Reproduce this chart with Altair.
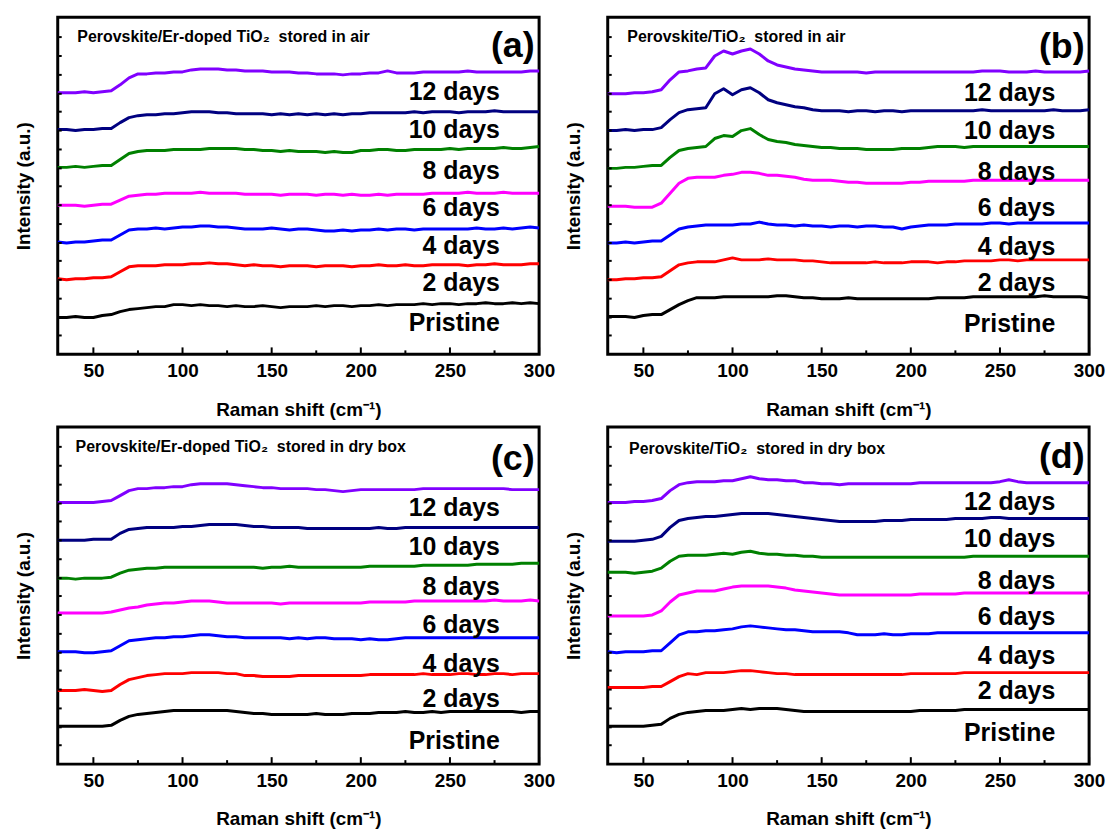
import altair as alt
import pandas as pd

FONT = "Liberation Sans"

SERIES = ["Pristine", "2 days", "4 days", "6 days", "8 days", "10 days", "12 days"]
COLORS = ["#000000", "#ff0000", "#0000ff", "#ff00ff", "#008000", "#000080", "#8000ff"]

RAMAN_SHIFT = list(range(30, 301, 5))  # sample positions, cm-1

X_MAJOR_TICKS = [50, 100, 150, 200, 250, 300]
X_MINOR_TICKS = [75, 125, 175, 225, 275]
Y_TICKS = [19, 37, 56, 75, 94, 112, 131, 150, 169, 187, 206, 225, 244, 262, 281, 300, 319]

# ---------------- panel (a): Perovskite/Er-doped TiO2, air ----------------
A_PRISTINE = [37,37,38,37,37,39,40,43,45,46,47, 48,48,50,50,49,50,49,49,48,49,48,
              48,49,48,47,48,48,48,49,48,49,49, 48,49,49,50,49,50,50,50,51,50,51,
              51,50,51,51,52,51,51,52,51,52,51]
A_2D = [76,75,76,76,77,77,78,83,88,89,89, 89,90,90,90,91,91,92,91,91,90,89,
        90,89,89,88,89,89,89,88,89,89,89, 88,89,89,90,89,89,90,89,89,90,90,
        90,90,89,90,90,91,90,90,90,91,91]
A_4D = [113,112,113,113,114,115,115,120,125,126,126, 127,126,127,128,128,129,129,128,128,127,126,
        126,126,127,126,125,126,126,125,124,124,125, 124,125,125,126,125,126,126,125,126,126,126,
        126,126,126,127,126,126,127,126,127,128,127]
A_6D = [150,150,150,149,150,151,151,155,159,160,161, 161,162,162,162,162,163,162,162,162,162,161,
        161,161,161,160,161,161,161,160,161,161,160, 161,160,160,161,160,161,161,161,161,162,162,
        162,162,163,162,162,162,163,162,162,162,162]
A_8D = [188,188,189,188,189,190,190,196,202,204,205, 205,205,206,206,206,206,207,207,207,207,206,
        206,205,205,204,205,204,204,204,203,204,203, 203,205,205,206,206,205,205,206,206,206,206,
        207,206,207,207,207,207,208,207,207,208,209]
A_10D = [226,226,225,226,226,227,227,233,238,240,241, 241,242,242,243,244,244,244,243,243,242,242,
         242,242,241,242,241,242,241,242,241,242,241, 242,242,243,243,243,243,243,244,243,244,244,
         244,243,244,244,244,245,244,244,244,244,244]
A_12D = [263,263,263,264,263,264,265,271,278,282,282, 283,283,284,284,286,287,287,287,286,286,285,
         285,285,284,284,284,283,283,282,282,282,281, 282,282,283,283,285,283,283,283,284,284,284,
         284,284,285,284,284,284,284,284,284,285,285]

# ---------------- panel (b): Perovskite/TiO2, air ----------------
B_PRISTINE = [38,38,38,37,39,40,40,45,50,54,57, 57,57,58,58,58,58,58,58,59,59,58,
              57,57,56,56,56,57,56,56,56,56,56, 56,56,56,56,57,57,57,57,58,58,58,
              58,58,58,58,58,59,58,58,58,58,57]
B_2D = [75,75,76,76,77,77,78,84,90,92,93, 93,93,95,97,95,95,95,96,95,95,95,
        94,94,93,92,92,92,92,92,93,92,92, 92,93,93,93,92,93,93,94,94,94,94,
        95,95,94,95,95,95,95,95,95,95,95]
B_4D = [112,112,113,112,113,114,114,120,126,128,129, 130,130,130,130,131,131,133,131,130,130,129,
        130,129,129,128,129,129,128,129,129,128,128, 126,128,129,130,130,130,131,131,131,131,132,
        132,131,132,132,132,132,132,132,132,132,132]
B_6D = [149,149,149,148,148,148,152,162,172,177,178, 178,178,180,181,183,183,182,180,180,179,178,
        176,175,175,175,174,173,173,172,172,172,172, 172,173,173,174,174,174,174,174,175,175,175,
        175,175,175,175,175,175,175,175,175,175,175]
B_8D = [187,187,188,188,189,190,190,198,205,207,208, 209,217,220,219,225,227,221,216,214,213,211,
        210,209,208,208,207,207,207,206,206,206,206, 207,207,207,208,209,209,209,208,209,209,209,
        209,209,209,209,209,209,209,209,209,209,209]
B_10D = [225,225,226,225,226,226,228,236,243,246,247, 248,262,267,261,266,268,263,256,253,251,249,
         248,246,245,245,245,244,245,245,244,245,245, 244,245,245,245,245,245,245,245,245,246,245,
         245,245,245,245,245,245,246,245,245,245,246]
B_12D = [262,262,262,263,263,264,266,276,284,285,287, 288,300,305,302,305,307,302,295,291,289,287,
         286,285,284,284,284,284,284,283,284,284,284, 284,284,284,284,284,284,284,284,284,285,285,
         285,284,284,284,285,284,284,284,284,284,285]

# ---------------- panel (c): Perovskite/Er-doped TiO2, dry box ----------------
C_PRISTINE = [38,38,38,38,38,38,39,44,48,50,51, 52,53,54,54,54,54,54,54,54,53,52,
              51,51,50,50,50,50,50,51,50,50,50, 51,51,51,52,52,52,53,52,52,53,52,
              53,53,53,53,53,53,53,53,52,53,53]
C_2D = [74,74,74,75,74,73,74,80,85,87,89, 90,91,91,91,92,92,92,92,91,91,89,
        89,88,88,88,88,89,89,89,89,89,89, 89,89,90,90,90,90,90,90,91,90,90,
        90,91,91,90,90,91,91,90,91,91,91]
C_4D = [113,113,113,112,112,113,114,119,124,125,126, 127,127,128,128,129,130,130,129,128,128,127,
        127,127,127,127,126,127,126,127,127,126,126, 126,125,126,125,125,126,127,127,127,127,127,
        127,127,127,127,127,127,127,127,127,127,127]
C_6D = [152,152,152,152,152,152,153,155,157,158,160, 161,162,162,163,164,164,164,163,162,162,162,
        162,162,162,161,162,162,162,162,162,162,162, 162,162,163,163,163,163,163,164,164,164,164,
        164,164,164,164,164,165,164,164,164,165,164]
C_8D = [187,187,186,187,187,187,188,192,195,196,197, 197,198,198,198,198,198,198,198,198,198,198,
        198,197,198,198,199,198,198,198,198,198,198, 198,198,199,199,199,199,199,199,200,200,200,
        200,200,200,201,201,201,201,201,202,202,202]
C_10D = [225,225,225,225,226,226,226,232,236,237,238, 238,238,238,239,239,240,241,241,241,241,240,
         239,239,238,238,238,238,237,237,237,237,237, 237,237,237,238,237,237,238,238,238,238,238,
         238,238,238,238,238,238,238,238,238,238,238]
C_12D = [263,263,263,263,263,264,265,270,275,277,277, 278,278,279,279,281,282,282,282,282,281,280,
         279,278,278,277,277,277,277,276,276,275,274, 275,276,276,276,276,276,276,276,277,277,277,
         277,277,277,277,277,277,277,276,276,276,276]

# ---------------- panel (d): Perovskite/TiO2, dry box ----------------
D_PRISTINE = [38,38,38,38,38,39,40,46,50,52,53, 54,54,54,55,56,55,56,56,56,55,54,
              53,53,53,53,53,53,53,53,53,53,53, 53,53,54,54,54,54,54,55,55,55,55,
              55,55,55,55,55,55,55,55,55,55,55]
D_2D = [77,77,77,77,77,78,78,83,88,91,90, 92,92,92,93,94,94,93,92,91,91,90,
        90,90,90,90,90,90,90,90,90,90,90, 90,91,91,91,91,91,91,92,92,92,92,
        92,92,92,92,92,92,92,92,92,92,92]
D_4D = [113,112,113,113,113,114,114,122,130,133,133, 134,134,135,136,138,139,138,137,136,135,135,
        134,133,133,133,133,132,130,130,130,131,130, 130,131,131,131,132,132,132,132,132,132,132,
        132,132,132,132,132,132,132,132,132,132,132]
D_6D = [149,149,149,149,149,150,154,163,170,172,174, 174,174,176,178,179,179,179,179,178,177,175,
        174,173,172,171,170,170,170,170,170,170,170, 170,170,171,171,171,171,171,172,172,172,172,
        172,172,172,172,172,172,172,172,172,172,172]
D_8D = [193,193,193,192,193,194,197,204,209,210,210, 210,211,212,211,213,214,212,211,211,210,210,
        209,209,208,208,208,208,208,208,208,208,208, 208,208,208,208,208,208,208,208,209,209,209,
        209,209,209,209,209,209,209,209,209,209,209]
D_10D = [224,224,224,224,225,226,229,238,245,247,248, 249,249,250,251,252,252,252,252,251,250,249,
         248,247,246,245,244,244,244,244,244,245,245, 245,246,246,246,246,246,247,247,247,247,248,
         248,247,247,247,247,247,247,247,247,247,247]
D_12D = [263,263,263,264,264,265,267,275,281,283,284, 284,284,285,285,287,289,287,286,286,285,285,
         283,283,282,282,281,282,282,282,282,282,282, 282,282,283,283,283,283,283,283,283,283,283,
         284,286,284,283,283,283,283,283,283,283,283]

# label baselines (intensity units) per panel, order as SERIES
A_LABEL_Y = [23, 64, 101, 139, 176, 218, 256]
B_LABEL_Y = [22, 64, 100, 139, 175, 217, 255]
C_LABEL_Y = [15, 57, 93, 132, 170, 210, 249]
D_LABEL_Y = [23, 65, 101, 140, 176, 218, 256]

W, H = 484, 339

X_ENC = dict(
    field="x", type="quantitative",
    scale=alt.Scale(domain=[30, 300], nice=False, zero=False),
    axis=alt.Axis(values=X_MAJOR_TICKS, title="Raman shift (cm⁻¹)", ticks=False, domain=False,
                  grid=False, labelPadding=7, titlePadding=20, labelFontSize=19, titleFontSize=19,
                  labelFont=FONT, titleFont=FONT, labelFontWeight="bold", titleFontWeight="bold",
                  labelColor="black", titleColor="black", labelFlush=False),
)
Y_ENC = dict(
    field="y", type="quantitative",
    scale=alt.Scale(domain=[0, 339], nice=False, zero=False),
    axis=alt.Axis(title="Intensity (a.u.)", labels=False, ticks=False, domain=False, grid=False,
                  titlePadding=24, titleFontSize=19, titleFont=FONT, titleFontWeight="bold",
                  titleColor="black"),
)


def panel(curves, label_y, label_x, subtitle, sub_x, sub_y, letter, letter_x, letter_y):
    rows = []
    for name, vals in zip(SERIES, curves):
        for xv, yv in zip(RAMAN_SHIFT, vals):
            rows.append({"x": xv, "y": yv, "series": name})
    df = pd.DataFrame(rows)
    x = alt.X(**X_ENC)
    y = alt.Y(**Y_ENC)

    lines = alt.Chart(df).mark_line(strokeWidth=3, strokeJoin="round").encode(
        x=x, y=y,
        color=alt.Color("series:N", scale=alt.Scale(domain=SERIES, range=COLORS), legend=None),
        detail="series:N",
    )
    lab_df = pd.DataFrame({"x": [label_x] * len(SERIES), "y": label_y, "t": SERIES})
    labels = alt.Chart(lab_df).mark_text(
        align="right", baseline="alphabetic", fontSize=25, fontWeight="bold", font=FONT, color="black"
    ).encode(x=x, y=y, text="t:N")

    sub = alt.Chart(pd.DataFrame({"x": [sub_x], "y": [sub_y], "t": [subtitle]})).mark_text(
        align="left", baseline="alphabetic", fontSize=16, fontWeight="bold", font=FONT, color="black"
    ).encode(x=x, y=y, text="t:N")

    let = alt.Chart(pd.DataFrame({"x": [letter_x], "y": [letter_y], "t": [letter]})).mark_text(
        align="right", baseline="alphabetic", fontSize=36, fontWeight="bold", font=FONT, color="black"
    ).encode(x=x, y=y, text="t:N")

    xmaj = alt.Chart(pd.DataFrame({"x": X_MAJOR_TICKS})).mark_rule(color="black", strokeWidth=2).encode(
        x=x, y=alt.value(H), y2=alt.value(H - 7))
    xmin = alt.Chart(pd.DataFrame({"x": X_MINOR_TICKS})).mark_rule(color="black", strokeWidth=2).encode(
        x=x, y=alt.value(H), y2=alt.value(H - 4))
    yt = alt.Chart(pd.DataFrame({"y": Y_TICKS})).mark_rule(color="black", strokeWidth=2).encode(
        y=y, x=alt.value(0), x2=alt.value(4))

    return alt.layer(lines, labels, sub, let, xmaj, xmin, yt).properties(width=W, height=H)


NB = "\u00a0"
pa = panel([A_PRISTINE, A_2D, A_4D, A_6D, A_8D, A_10D, A_12D], A_LABEL_Y, 278,
           f"Perovskite/Er-doped TiO₂{NB} stored in air", 41, 314, "(a)", 297.5, 299)
pb = panel([B_PRISTINE, B_2D, B_4D, B_6D, B_8D, B_10D, B_12D], B_LABEL_Y, 281,
           f"Perovskite/TiO₂{NB} stored in air", 41, 314, "(b)", 297.5, 298)
pc = panel([C_PRISTINE, C_2D, C_4D, C_6D, C_8D, C_10D, C_12D], C_LABEL_Y, 278,
           f"Perovskite/Er-doped TiO₂{NB} stored in dry box", 40, 314, "(c)", 297.5, 296)
pd_ = panel([D_PRISTINE, D_2D, D_4D, D_6D, D_8D, D_10D, D_12D], D_LABEL_Y, 281,
            f"Perovskite/TiO₂{NB} stored in dry box", 42, 312, "(d)", 297.5, 298)

chart = alt.concat(pa, pb, pc, pd_, columns=2).properties(
    bounds="flush", spacing={"row": 73, "column": 69}, background="white",
    padding={"left": 5, "top": 5, "right": 0, "bottom": 0}
).configure_view(stroke="black", strokeWidth=3)

chart.save("out.html", embed_options={"renderer": "svg", "actions": False})
